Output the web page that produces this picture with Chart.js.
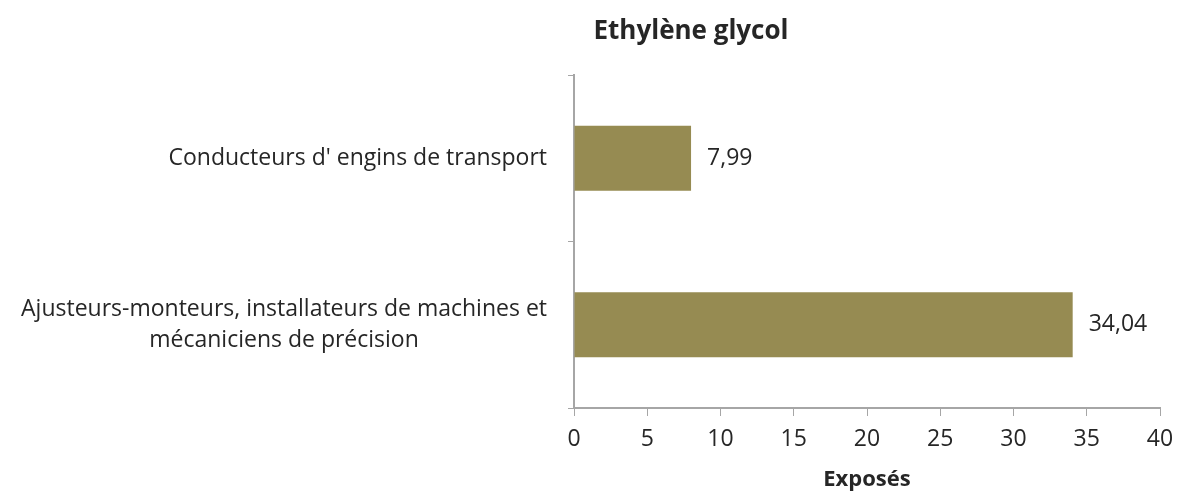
<!DOCTYPE html>
<html>
<head>
<meta charset="utf-8">
<script src="https://cdn.jsdelivr.net/npm/chart.js@4.4.0/dist/chart.umd.min.js"></script>
<style>
  html, body { margin: 0; padding: 0; background: #fff; }
  #wrap { width: 1178px; height: 497px; }
</style>
</head>
<body>
<div id="wrap"><canvas id="chart"></canvas></div>
<script>
const chartTitle = 'Ethylène glycol';
const axisTitle = 'Exposés';
const categories = [
  ['Conducteurs d\' engins de transport'],
  ['Ajusteurs-monteurs, installateurs de machines et', 'mécaniciens de précision']
];
const values = [7.99, 34.04];
const valueLabels = ['7,99', '34,04'];

const fontFamily = '"Open Sans", "Noto Sans", sans-serif';
const textColor = '#262626';
const axisColor = '#a6a6a6';
const barColor = '#968b52';

// title drawn over the left part like the original
const titlePlugin = {
  id: 'titlePlugin',
  afterDraw(chart) {
    const ctx = chart.ctx;
    ctx.save();
    ctx.font = 'bold 26px ' + fontFamily;
    ctx.fillStyle = textColor;
    ctx.textAlign = 'center';
    ctx.textBaseline = 'middle';
    ctx.fillText(chartTitle, 691, 32);
    ctx.restore();
  }
};

// category labels: lines centred on each other, block right-aligned
const catLabels = {
  id: 'catLabels',
  afterDraw(chart) {
    const ctx = chart.ctx;
    const y = chart.scales.y;
    ctx.save();
    ctx.font = '23px ' + fontFamily;
    ctx.fillStyle = textColor;
    ctx.textAlign = 'center';
    ctx.textBaseline = 'middle';
    const lh = 31;
    categories.forEach((lines, i) => {
      const w = Math.max(...lines.map(l => ctx.measureText(l).width));
      const cx = y.right - 27 - w / 2;
      const cy = y.getPixelForTick(i);
      lines.forEach((l, j) => {
        ctx.fillText(l, cx, cy + (j - (lines.length - 1) / 2) * lh);
      });
    });
    ctx.restore();
  }
};

// value labels to the right of each bar
const valueLabelsPlugin = {
  id: 'valueLabels',
  afterDatasetsDraw(chart) {
    const ctx = chart.ctx;
    const meta = chart.getDatasetMeta(0);
    ctx.save();
    ctx.font = '23px ' + fontFamily;
    ctx.fillStyle = textColor;
    ctx.textAlign = 'left';
    ctx.textBaseline = 'middle';
    meta.data.forEach((bar, i) => {
      ctx.fillText(valueLabels[i], bar.x + 16, bar.y);
    });
    ctx.restore();
  }
};

new Chart(document.getElementById('chart'), {
  type: 'bar',
  data: {
    labels: categories.map(c => c.join(' ')),
    datasets: [{
      data: values,
      backgroundColor: barColor,
      borderWidth: 0,
      categoryPercentage: 1,
      barPercentage: 0.39
    }]
  },
  options: {
    indexAxis: 'y',
    responsive: true,
    maintainAspectRatio: false,
    animation: false,
    layout: { padding: { top: 75, right: 18, left: 0, bottom: 0 } },
    plugins: {
      legend: { display: false },
      title: { display: false },
      tooltip: { enabled: false }
    },
    scales: {
      x: {
        min: 0,
        max: 40,
        ticks: {
          stepSize: 5,
          color: textColor,
          font: { family: fontFamily, size: 23 },
          padding: 10
        },
        grid: {
          drawOnChartArea: false,
          drawTicks: true,
          tickLength: 8,
          color: axisColor
        },
        border: { color: axisColor, width: 2 },
        title: {
          display: true,
          text: axisTitle,
          color: textColor,
          font: { family: fontFamily, size: 22, weight: 'bold' },
          padding: { top: 6 }
        },
        afterFit(scale) {
          scale.height = 89;
          scale.paddingRight = 0;
        }
      },
      y: {
        ticks: { display: false },
        grid: {
          drawOnChartArea: false,
          drawTicks: true,
          tickLength: 6,
          offset: true,
          color: axisColor
        },
        border: { color: axisColor, width: 2 },
        afterFit(scale) { scale.width = 574; }
      }
    }
  },
  plugins: [titlePlugin, catLabels, valueLabelsPlugin]
});
</script>
</body>
</html>
